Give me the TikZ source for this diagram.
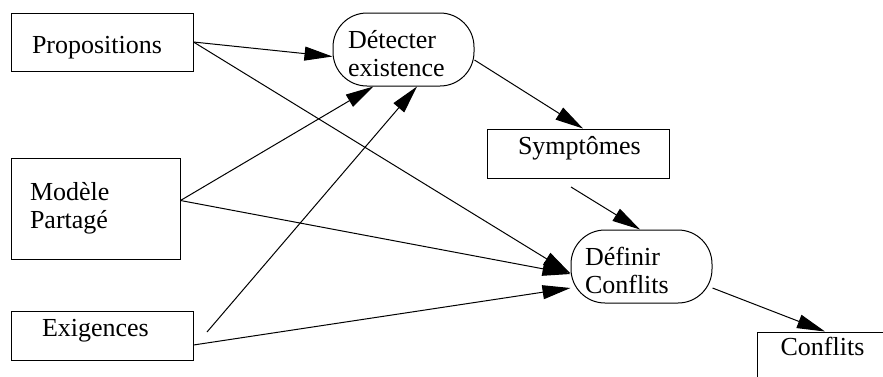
\documentclass[tikz,border=0pt]{standalone}
\usepackage{fontspec}
\newfontfamily\labelfont{LiberationSerif}[Extension=.ttf, UprightFont=*-Regular]
\usetikzlibrary{arrows.meta}
\begin{document}
\begin{tikzpicture}[x=1pt,y=-1pt,
  every node/.style={font=\labelfont\fontsize{26}{28}\selectfont, inner sep=0pt, line width=1pt},
  box/.style={draw, rectangle},
  proc/.style={draw, rectangle, rounded corners=34pt, minimum width=141pt, minimum height=73pt, align=left},
  link/.style={line width=1pt, -{Triangle[length=28pt,width=14pt]}}]
\useasboundingbox (0,0) rectangle (883,376);
\clip (0,0) rectangle (883,376);

% inputs
\node[box, minimum width=182pt, minimum height=58pt, text width=140pt, align=left,
      text height=24pt, text depth=2pt] (prop) at (102,42) {Propositions};
\node[box, minimum width=169pt, minimum height=101pt, text width=131pt, align=left,
      text height=5pt, text depth=22pt] (mod) at (95.5,208.5) {Modèle\\Partagé};
\node[box, minimum width=182pt, minimum height=49pt, text width=120pt, align=left,
      text height=14pt, text depth=13pt] (exi) at (102,335.5) {Exigences};

% processes
\node[proc, text width=111pt, text height=10pt, text depth=13pt] (det) at (403.5,49.5) {Détecter\\existence};
\node[proc, text width=113pt, text height=10pt, text depth=13pt] (def) at (641.5,266.5) {Définir\\Conflits};

% outputs
\node[box, minimum width=182pt, minimum height=49pt, text width=120pt, align=left,
      text height=14pt, text depth=13pt] (sym) at (578,153.5) {Symptômes};
\node[box, minimum width=131pt, minimum height=60pt,
      text height=6pt, text depth=20pt] (con) at (822.5,362) {Conflits};

% flows
\coordinate (exifree) at (207,332);
\coordinate (symfree) at (571,187);
\draw[link] (prop.east) -- ([yshift=-7pt]det.west);
\draw[link] (prop.east) -- ([yshift=-7pt]def.west);
\draw[link] ([yshift=8pt]mod.east) -- ([xshift=-30pt]det.south);
\draw[link] ([yshift=8pt]mod.east) -- ([yshift=-7.5pt]def.west);
\draw[link] (exifree) -- ([xshift=13.5pt]det.south);
\draw[link] ([yshift=-9.5pt]exi.east) -- ([yshift=-21.5pt]def.west);
\draw[link] ([yshift=-10.5pt]det.east) -- ([xshift=5pt]sym.north);
\draw[link] (symfree) -- ([xshift=-1.5pt]def.north);
\draw[link] ([yshift=-21.5pt]def.east) -- ([xshift=2.5pt]con.north);
\end{tikzpicture}
\end{document}
